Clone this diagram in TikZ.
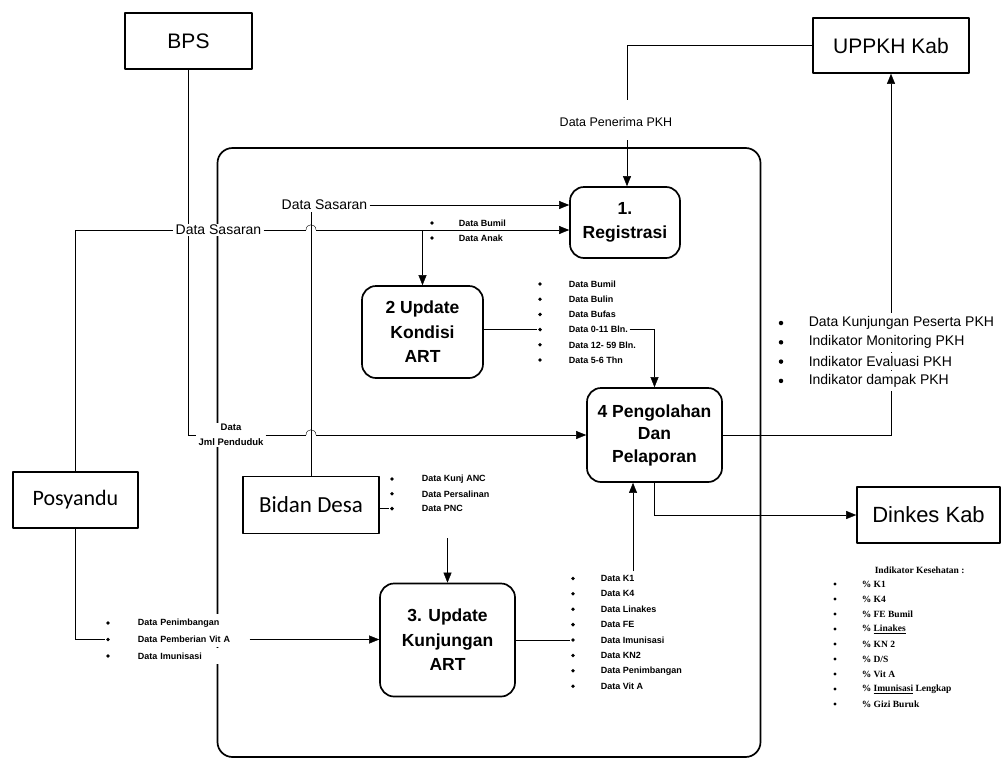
\documentclass[tikz,border=0pt]{standalone}
\usepackage{fontspec}
\setmainfont{Liberation Sans}
\newfontfamily\calibfont{Carlito}
\newfontfamily\timesfont{Liberation Serif}
\usetikzlibrary{arrows.meta}
\pgfdeclarelayer{back}
\pgfsetlayers{back,main}

\begin{document}
\begin{tikzpicture}[x=1pt, y=-1pt, line width=1.5pt, line join=round,
  tip/.style={-{Triangle[length=10pt,width=8pt]}},
  ent/.style={draw, line width=1.6pt, inner sep=0pt, font=\fontsize{21}{21}\selectfont},
  proc/.style={draw, rounded corners=14pt, line width=1.7pt, inner sep=0pt, align=center,
    font=\bfseries\fontsize{17.5}{24.5}\selectfont},
  lbl/.style={fill=white, inner sep=1.5pt, font=\fontsize{14}{14}\selectfont},
  dot/.style={circle, fill, inner sep=0pt, minimum size=3.8pt},
  itm/.style={anchor=west, inner sep=1pt, font=\bfseries\fontsize{9}{10}\selectfont},
]
\useasboundingbox (0,0) rectangle (1003,763);

% external entities
\node[ent, minimum width=127pt, minimum height=56pt] (bps) at (188.5,41) {BPS};
\node[ent, minimum width=156pt, minimum height=55pt] (uppkh) at (891,45.5) {UPPKH Kab};
\node[ent, minimum width=125pt, minimum height=56pt, font=\calibfont\fontsize{22}{22}\selectfont] (posy) at (75.5,500) {Posyandu};
\node[ent, minimum width=136pt, minimum height=57pt, font=\calibfont\fontsize{23}{23}\selectfont] (bidan) at (311,505) {Bidan Desa};
\node[ent, minimum width=143pt, minimum height=56pt, font=\fontsize{22}{22}\selectfont] (dinkes) at (928.5,515) {Dinkes Kab};

% processes
\node[proc, minimum width=110pt, minimum height=71pt] (reg) at (625,222.5) {1.\\Registrasi};
\node[proc, minimum width=121pt, minimum height=92pt] (upd2) at (422.5,332) {2 Update\\Kondisi\\ART};
\node[proc, minimum width=135pt, minimum height=94pt, font=\bfseries\fontsize{17.5}{22.5}\selectfont] (peng) at (654.5,435) {4 Pengolahan\\Dan\\Pelaporan};
\node[proc, minimum width=135pt, minimum height=113pt] (upd3) at (447.5,640) {3. Update\\Kunjungan\\ART};

% flow labels
\node[lbl] (sasU) at (324.5,205) {Data Sasaran};
\node[lbl] (sasL) at (218.5,230) {Data Sasaran};
\node[lbl, inner sep=0.5pt, font=\fontsize{12.5}{13}\selectfont] (pen) at (616,122) {Data Penerima PKH};
\node[fill=white, inner sep=1.5pt, align=center, font=\bfseries\fontsize{9.5}{15}\selectfont] (jml) at (231,435) {Data\\Jml Penduduk};

% data lists
\foreach \t [count=\i] in {Data Bumil, Data Anak} {
  \node[dot] (la\i) at (432, {223+15*(\i-1)}) {};
  \node[itm] (lat\i) at (457, {223+15*(\i-1)}) {\t};
}
\foreach \t [count=\i] in {Data Bumil, Data Bulin, Data Bufas, Data 0-11 Bln., Data 12- 59 Bln., Data 5-6 Thn} {
  \node[dot] (lb\i) at (540, {284+15.2*(\i-1)}) {};
  \node[itm] (lbt\i) at (567, {284+15.2*(\i-1)}) {\t};
}
\foreach \t [count=\i] in {Data Kunjungan Peserta PKH, Indikator Monitoring PKH, Indikator Evaluasi PKH, Indikator dampak PKH} {
  \node[dot, minimum size=4.5pt] (lr\i) at (781, {323+19.3*(\i-1)}) {};
  \node[itm, fill=white, inner ysep=3.5pt, font=\fontsize{14}{14}\selectfont] (lrt\i) at (807, {323+19.3*(\i-1)}) {\t};
}
\foreach \t [count=\i] in {Data Kunj ANC, Data Persalinan, Data PNC} {
  \node[dot] (ld\i) at (392, {479+14.8*(\i-1)}) {};
  \node[itm] (ldt\i) at (420, {479+14.8*(\i-1)}) {\t};
}
\foreach \t [count=\i] in {Data Penimbangan, Data Pemberian Vit A, Data Imunisasi} {
  \node[dot] (lp\i) at (108, {623+16.5*(\i-1)}) {};
  \node[itm, fill=white, inner ysep=4.5pt, text width=110pt, align=left] (lpt\i) at (136, {623+16.5*(\i-1)}) {\t};
}
\foreach \t [count=\i] in {Data K1, Data K4, Data Linakes, Data FE, Data Imunisasi, Data KN2, Data Penimbangan, Data Vit A} {
  \node[dot] (lk\i) at (573, {578.4+15.4*(\i-1)}) {};
  \node[itm] (lkt\i) at (599, {578.4+15.4*(\i-1)}) {\t};
}
\node[itm, font=\timesfont\bfseries\fontsize{9.5}{10}\selectfont] (indt) at (873,570) {Indikator Kesehatan :};
\foreach \t [count=\i] in {\% K1, \% K4, \% FE Bumil, \% \underline{Linakes}, \% KN 2, \% D/S, \% Vit A, \% \underline{Imunisasi} Lengkap, \% Gizi Buruk} {
  \node[dot, minimum size=3.4pt] (li\i) at (835, {584+15*(\i-1)}) {};
  \node[itm, font=\timesfont\bfseries\fontsize{9.5}{10}\selectfont] (lit\i) at (860, {584+15*(\i-1)}) {\t};
}

% free ends of connectors and line hops
\coordinate (penTop) at (627,100);
\coordinate (penBot) at (627,140);
\coordinate (k1top) at (633,571);
\coordinate (bdarr) at (447.5,538);
\coordinate (hopAa) at (306,230);
\coordinate (hopAb) at (316,230);
\coordinate (hopBa) at (306,435);
\coordinate (hopBb) at (316,435);

\begin{pgfonlayer}{back}
  % system boundary
  \node[draw, rounded corners=15pt, line width=1.7pt, inner sep=0pt,
        minimum width=543pt, minimum height=609pt] (frame) at (489,452.5) {};
  % connectors
  \draw (bps.south) |- (jml.west);
  \draw (jml.east) -- (hopBa);
  \draw (hopBa) .. controls (306,428) and (316,428) .. (hopBb);
  \draw[tip] (hopBb) -- (peng.west);
  \draw (posy.north) |- (sasL.west);
  \draw (sasL.east) -- (hopAa);
  \draw (hopAa) .. controls (306,223) and (316,223) .. (hopAb);
  \draw[tip] (hopAb) -- (reg.west |- hopAb);
  \draw[tip] (upd2.north |- sasL.east) -- (upd2.north);
  \draw[tip] (sasU.east) -- (reg.west |- sasU.east);
  \draw (bidan.north) -- (bidan.north |- sasU.south);
  \draw (uppkh.west) -| (penTop);
  \draw[tip] (penBot) -- (penBot |- reg.north);
  \draw (upd2.east |- lb4) -- (lb4);
  \draw[tip] (lbt4.east) -| (peng.north);
  \draw[tip] (peng.east) -| (uppkh.south);
  \draw[tip] (peng.south) |- (dinkes.west);
  \draw[tip] (k1top) -- (k1top |- peng.south);
  \draw (upd3.east |- lk5) -- (lk5);
  \draw (posy.south) |- (lp2);
  \draw[tip] (lpt2.east) -- (upd3.west |- lpt2.east);
  \draw (bidan.east |- ld3) -- (ld3);
  \draw[tip] (bdarr) -- (upd3.north);
\end{pgfonlayer}
\end{tikzpicture}
\end{document}
